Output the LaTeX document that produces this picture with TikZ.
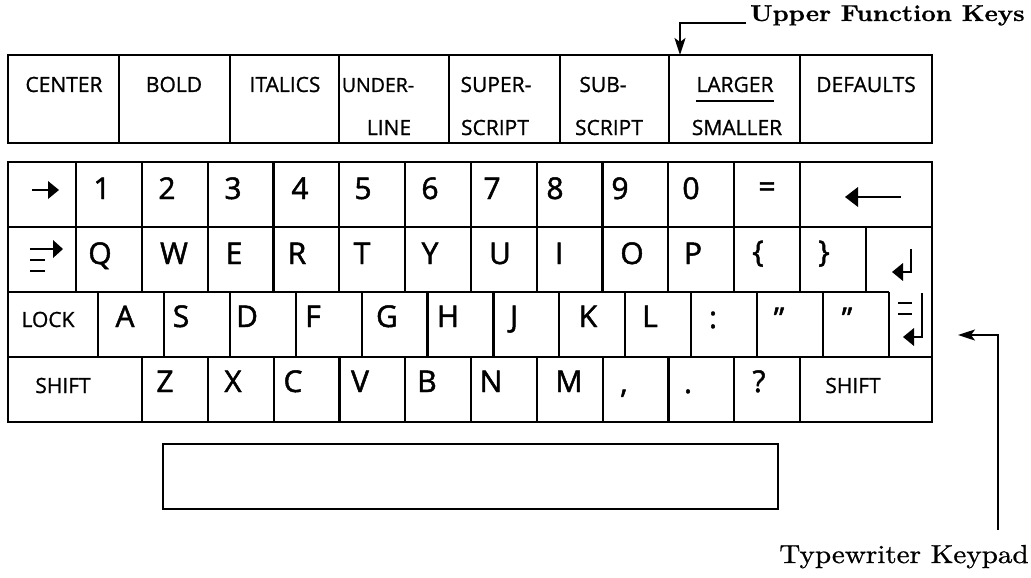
\documentclass[tikz,border=0pt]{standalone}
\usepackage{fontspec}
\newfontface\keyfont[FakeBold=1.6]{Open Sans}
\newfontface\fnfont[FakeBold=1.0]{Open Sans}
\newfontface\labfont[FakeBold=0.8]{lmroman10-regular.otf}
\newfontface\labbold[FakeBold=0.5]{lmroman10-bold.otf}
\usetikzlibrary{arrows.meta}
\begin{document}
\begin{tikzpicture}[x=1pt,y=-1pt,
  frame/.style={line width=2.2pt},
  glyph/.style={line width=2.8pt},
  keytxt/.style={font=\keyfont\fontsize{30}{32}\selectfont, inner sep=0pt, anchor=base},
  fntxt/.style={font=\fnfont\fontsize{21}{24}\selectfont, inner sep=0pt, anchor=base},
  pointer/.style={line width=2pt, -{Stealth[length=17pt,width=11pt,inset=4pt]}}]
\useasboundingbox (0,0) rectangle (1031,578);
% ---------- upper function keys ----------
\draw[frame] (8,55) rectangle (932,143);
\foreach \x in {119,230,339,449,560,669,800} \draw[frame] (\x,55) -- (\x,143);
\node[fntxt] (fCenter) at (64,92) {CENTER};
\node[fntxt] (fBold) at (174,92) {BOLD};
\node[fntxt] (fItal) at (285,92) {ITALICS};
\node[fntxt, font=\fnfont\fontsize{19.5}{24}\selectfont] (fUnder) at (378,92) {UNDER-};
\node[fntxt] (fLine) at (389,135) {LINE};
\node[fntxt] (fSuper) at (496,92) {SUPER-};
\node[fntxt] (fScript) at (495,135) {SCRIPT};
\node[fntxt] (fSub) at (603,92) {SUB-};
\node[fntxt] (fScriptb) at (609,135) {SCRIPT};
\node[fntxt] (fLarger) at (735,92) {LARGER};
\draw[line width=1.7pt] ([yshift=-9pt]fLarger.base west) -- ([yshift=-9pt]fLarger.base east);
\node[fntxt] (fSmaller) at (737,135) {SMALLER};
\node[fntxt] (fDefaults) at (866,92) {DEFAULTS};
% ---------- typewriter keypad ----------
\draw[frame] (8,162) rectangle (932,422);
\draw[frame] (8,227) -- (932,227);
\draw[frame] (8,292) -- (889,292);
\draw[frame] (8,357) -- (932,357);
\foreach \i in {0,...,11} \draw[frame] ({76+65.8*\i},162) -- ++(0,65);
\foreach \i in {0,...,12} \draw[frame] ({76+65.8*\i},227) -- ++(0,65);
\foreach \i in {0,...,12} \draw[frame] ({98+65.9*\i},292) -- ++(0,65);
\foreach \i in {0,...,10} \draw[frame] ({142+65.8*\i},357) -- ++(0,65);
% row 1
\draw[glyph] (32,190) -- (50,190);
\fill (59,190) -- (48,181) -- (48,199) -- cycle;
\node[keytxt] (k1) at (102,199) {1};
\node[keytxt] (k2) at (167,199) {2};
\node[keytxt] (k3) at (233,199) {3};
\node[keytxt] (k4) at (300,199) {4};
\node[keytxt] (k5) at (363,199) {5};
\node[keytxt] (k6) at (430,199) {6};
\node[keytxt] (k7) at (492,199) {7};
\node[keytxt] (k8) at (555,199) {8};
\node[keytxt] (k9) at (620,199) {9};
\node[keytxt] (k0) at (691,199) {0};
\node[keytxt] (keq) at (767,197) {=};
\draw[glyph] (855,197) -- (901,197);
\fill (845,197) -- (858,187) -- (858,207) -- cycle;
% row 2
\draw[glyph] (30,249) -- (55,249);
\fill (63,249) -- (53,240) -- (53,258) -- cycle;
\draw[glyph] (30,260) -- (45,260);
\draw[glyph] (30,271) -- (45,271);
\node[keytxt] (kq) at (100,264) {Q};
\node[keytxt] (kw) at (174,264) {W};
\node[keytxt] (ke) at (234,264) {E};
\node[keytxt] (kr) at (297,264) {R};
\node[keytxt] (kt) at (362,264) {T};
\node[keytxt] (ky) at (430,264) {Y};
\node[keytxt] (ku) at (500,264) {U};
\node[keytxt] (ki) at (559,264) {I};
\node[keytxt] (ko) at (632,264) {O};
\node[keytxt] (kp) at (693,264) {P};
\node[keytxt] (klb) at (758,262) {\{};
\node[keytxt] (krb) at (824,262) {\}};
\draw[glyph] (911,249) -- (911,272) -- (900,272);
\fill (892,272) -- (903,263) -- (903,281) -- cycle;
% row 3
\node[fntxt] (klock) at (48,327) {LOCK};
\node[keytxt] (ka) at (125,327) {A};
\node[keytxt] (ks) at (181,327) {S};
\node[keytxt] (kd) at (247,327) {D};
\node[keytxt] (kf) at (313,327) {F};
\node[keytxt] (kg) at (387,327) {G};
\node[keytxt] (kh) at (448,327) {H};
\node[keytxt] (kj) at (514,327) {J};
\node[keytxt] (kk) at (588,327) {K};
\node[keytxt] (kl) at (650,327) {L};
\node[keytxt] (kcolon) at (713,328) {:};
\node[keytxt] (kqa) at (779,329) {”};
\node[keytxt] (kqb) at (847,329) {”};
\draw[glyph] (898,303) -- (912,303);
\draw[glyph] (898,314) -- (912,314);
\draw[glyph] (922,293) -- (922,337) -- (911,337);
\fill (903,337) -- (914,328) -- (914,346) -- cycle;
% row 4
\node[fntxt] (kshl) at (63,393) {SHIFT};
\node[keytxt] (kz) at (165,392) {Z};
\node[keytxt] (kx) at (233,392) {X};
\node[keytxt] (kc) at (293,392) {C};
\node[keytxt] (kv) at (360,392) {V};
\node[keytxt] (kb) at (427,392) {B};
\node[keytxt] (kn) at (491,392) {N};
\node[keytxt] (km) at (569,392) {M};
\node[keytxt] (kcomma) at (624,393) {,};
\node[keytxt] (kdot) at (688,393) {.};
\node[keytxt] (kquest) at (759,392) {?};
\node[fntxt] (kshr) at (853,393) {SHIFT};
% space bar
\node[draw, frame, minimum width=615pt, minimum height=65pt, inner sep=0pt] (space) at (470.5,476.5) {};
% ---------- labels ----------
\node[anchor=base west, inner sep=0pt, font=\labbold\fontsize{23}{26}\selectfont] (upper) at (750,21) {\scalebox{1.1}[1]{Upper Function Keys}};
\coordinate (fnTop) at (680,55);
\draw[pointer] ([xshift=-4pt,yshift=-2pt]upper.base west) -| (fnTop);
\node[anchor=base, inner sep=0pt, font=\labfont\fontsize{26}{30}\selectfont] (tw) at (904,563) {\scalebox{1.12}[1]{Typewriter Keypad}};
\coordinate (twStart) at (998,530);
\coordinate (twTip) at (958,335);
\draw[pointer] (twStart) |- (twTip);
\end{tikzpicture}
\end{document}
